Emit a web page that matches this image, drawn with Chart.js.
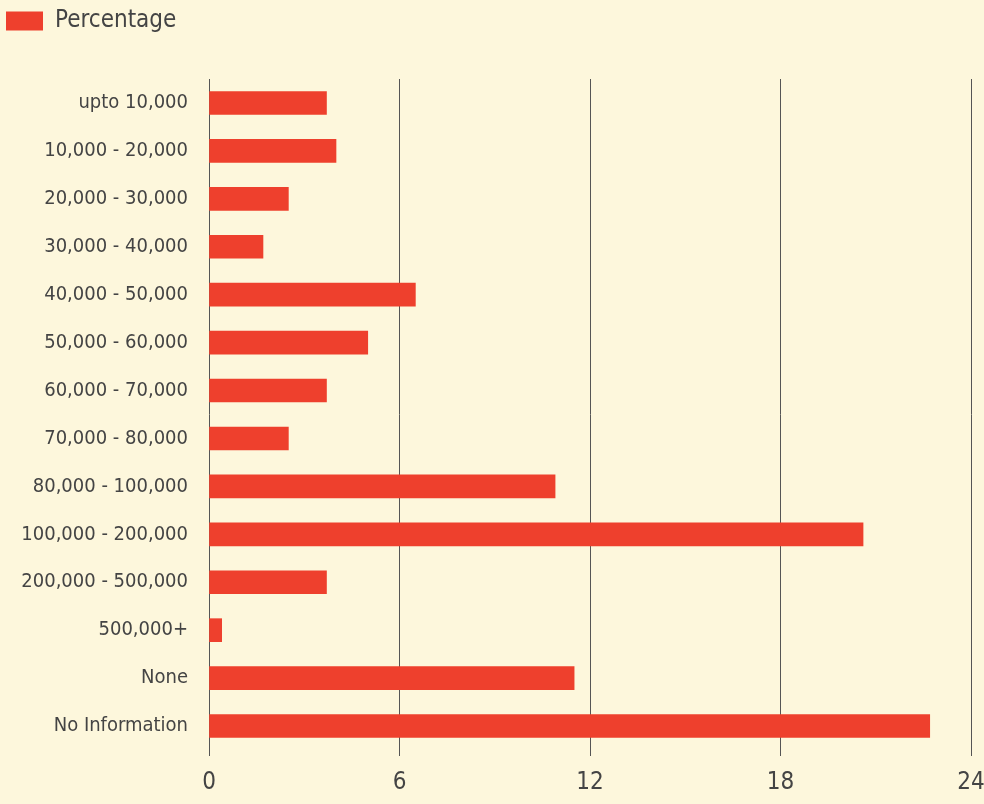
<!DOCTYPE html>
<html>
<head>
<meta charset="utf-8">
<script src="https://cdn.jsdelivr.net/npm/chart.js@4"></script>
<style>
  html, body { margin: 0; padding: 0; background: #fdf7dc; }
  #wrap { width: 984px; height: 804px; }
</style>
</head>
<body>
<div id="wrap"><canvas id="incomeChart" width="984" height="804"></canvas></div>
<script>
// income brackets and their share
var categories = ['upto 10,000', '10,000 - 20,000', '20,000 - 30,000', '30,000 - 40,000',
    '40,000 - 50,000', '50,000 - 60,000', '60,000 - 70,000', '70,000 - 80,000',
    '80,000 - 100,000', '100,000 - 200,000', '200,000 - 500,000', '500,000+',
    'None', 'No Information'];
var percentage = [3.7, 4.0, 2.5, 1.7, 6.5, 5.0, 3.7, 2.5, 10.9, 20.6, 3.7, 0.4, 11.5, 22.7];
var xTicks = [0, 6, 12, 18, 24];

var fontFamily = "'Liberation Sans Narrow', 'DejaVu Sans Condensed', sans-serif";
var textColor = '#444444';

// push the plot down below the legend
var legendGap = {
    id: 'legendGap',
    beforeInit: function (chart) {
        var fit = chart.legend.fit;
        chart.legend.fit = function () {
            fit.bind(chart.legend)();
            this.height += 36;
        };
    }
};

var ctx = document.getElementById('incomeChart').getContext('2d');

var chart = new Chart(ctx, {
    type: 'bar',
    data: {
        labels: categories,
        datasets: [{
            label: 'Percentage',
            data: percentage,
            backgroundColor: '#ee402d',
            borderWidth: 0,
            barThickness: 23
        }]
    },
    options: {
        indexAxis: 'y',
        responsive: false,
        animation: false,
        layout: { padding: { top: 3, right: 13, left: 0, bottom: 0 } },
        plugins: {
            tooltip: { enabled: false },
            legend: {
                align: 'start',
                labels: {
                    boxWidth: 37,
                    boxHeight: 19,
                    padding: 6,
                    color: textColor,
                    font: { family: fontFamily, size: 24 }
                }
            }
        },
        scales: {
            x: {
                min: 0,
                max: 24,
                afterBuildTicks: function (scale) {
                    scale.ticks = xTicks.map(function (v) { return { value: v }; });
                },
                grid: { color: '#555555', lineWidth: 1, tickLength: 6, drawTicks: true },
                border: { display: false },
                ticks: { color: textColor, padding: 12, font: { family: fontFamily, size: 24 } },
                afterFit: function (scale) {
                    scale.height = 54;
                    scale.paddingRight = 0;
                    scale.paddingLeft = 0;
                }
            },
            y: {
                grid: { display: false },
                border: { display: false },
                ticks: { color: textColor, padding: 13, font: { family: fontFamily, size: 20 } },
                afterFit: function (scale) { scale.width = 209; }
            }
        }
    },
    plugins: [legendGap]
});
</script>
</body>
</html>
